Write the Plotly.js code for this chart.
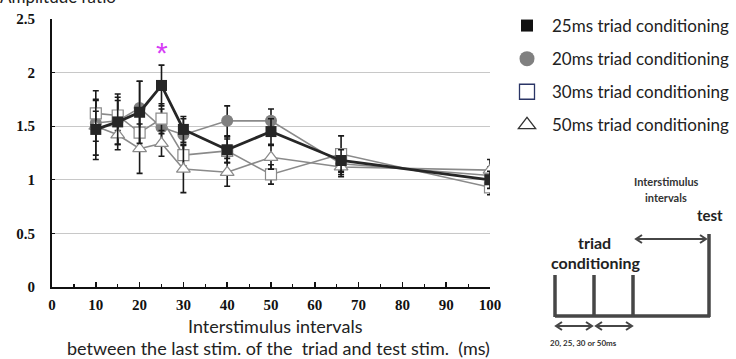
<!DOCTYPE html>
<html><head><meta charset="utf-8">
<script src="https://cdn.plot.ly/plotly-3.0.1.min.js"></script>
<style>html,body{margin:0;padding:0;background:#fff;overflow:hidden;} #chart{width:736px;height:359px;}</style>
</head><body><div id="chart"></div>
<script>
// ---- data ----
const isi = [10, 15, 20, 25, 30, 40, 50, 66, 100];
const ms25 = [1.47, 1.54, 1.63, 1.88, 1.47, 1.28, 1.45, 1.18, 1.00];
const ms25err = [0.28, 0.26, 0.29, 0.19, 0.12, 0.12, 0.12, 0.10, 0.08];
const ms20 = [1.53, 1.55, 1.67, 1.49, 1.42, 1.55, 1.55, 1.15, 1.04];
const ms20err = [0.30, 0.22, 0.25, 0.17, 0.15, 0.14, 0.11, 0.10, 0.08];
const ms30 = [1.62, 1.60, 1.44, 1.57, 1.23, 1.27, 1.05, 1.24, 0.93];
const ms30err = [0.12, 0.14, 0.16, 0.14, 0.10, 0.11, 0.09, 0.17, 0.07];
const ms50 = [1.50, 1.42, 1.29, 1.34, 1.10, 1.07, 1.21, 1.12, 1.09];
const ms50err = [0.14, 0.09, 0.23, 0.12, 0.22, 0.13, 0.11, 0.09, 0.10];
const seriesNames = ['25ms triad conditioning', '20ms triad conditioning', '30ms triad conditioning', '50ms triad conditioning'];
const yTicks = [0, 0.5, 1, 1.5, 2, 2.5];
const xTicks = [0, 10, 20, 30, 40, 50, 60, 70, 80, 90, 100];
const sigX = [25];
const sigY = [2.24];

// ---- layout helpers (pixel -> paper) ----
const L = 52, R = 490, T = 19, B = 287;
const PX = x => (x - L) / (R - L);
const PY = y => (B - y) / (B - T);

const labelFont = 'Lato, "Open Sans", sans-serif';
const tickFont = {family: '"Liberation Serif", "Times New Roman", serif', size: 15, color: '#111', weight: 'bold'};

function errs(arr) { return {type: 'data', array: arr, visible: true, color: '#1a1a1a', thickness: 1.6, width: 3}; }

const traces = [
  {x: isi, y: ms20, mode: 'lines+markers', name: seriesNames[1], showlegend: false,
   line: {color: '#8a8a8a', width: 1.6}, marker: {symbol: 'circle', size: 12, color: '#808080'}, error_y: errs(ms20err)},
  {x: isi, y: ms30, mode: 'lines+markers', name: seriesNames[2], showlegend: false,
   line: {color: '#8a8a8a', width: 1.6}, marker: {symbol: 'square', size: 11, color: '#ffffff', line: {color: '#8a8a8a', width: 1.2}}, error_y: errs(ms30err)},
  {x: isi, y: ms50, mode: 'lines+markers', name: seriesNames[3], showlegend: false,
   line: {color: '#8a8a8a', width: 1.6}, marker: {symbol: 'triangle-up', size: 12, color: '#ffffff', line: {color: '#8a8a8a', width: 1.2}}, error_y: errs(ms50err)},
  {x: isi, y: ms25, mode: 'lines+markers', name: seriesNames[0], showlegend: false,
   line: {color: '#262626', width: 2.8}, marker: {symbol: 'square', size: 11, color: '#262626'}, error_y: errs(ms25err)},
  // legend-only entries
  {x: [null], y: [null], mode: 'markers', name: seriesNames[0], legendgroup: 'a', marker: {symbol: 'square', size: 12, color: '#111'}},
  {x: [null], y: [null], mode: 'markers', name: seriesNames[1], legendgroup: 'b', marker: {symbol: 'circle', size: 15, color: '#808080'}},
  {x: [null], y: [null], mode: 'markers', name: seriesNames[2], legendgroup: 'c', marker: {symbol: 'square', size: 15, color: '#fff', line: {color: '#2a3566', width: 1.3}}},
  {x: [null], y: [null], mode: 'markers', name: seriesNames[3], legendgroup: 'd', marker: {symbol: 'triangle-up', size: 15, color: '#fff', line: {color: '#333', width: 1.3}}}
];

const dark = '#464646';
const shapes = [
  {type: 'line', xref: 'paper', yref: 'paper', x0: PX(555), x1: PX(710), y0: PY(316), y1: PY(316), line: {color: dark, width: 3.5}},
  {type: 'line', xref: 'paper', yref: 'paper', x0: PX(555), x1: PX(555), y0: PY(317), y1: PY(275), line: {color: dark, width: 3.5}},
  {type: 'line', xref: 'paper', yref: 'paper', x0: PX(594), x1: PX(594), y0: PY(317), y1: PY(275), line: {color: dark, width: 3.5}},
  {type: 'line', xref: 'paper', yref: 'paper', x0: PX(633), x1: PX(633), y0: PY(317), y1: PY(275), line: {color: dark, width: 3.5}},
  {type: 'line', xref: 'paper', yref: 'paper', x0: PX(709), x1: PX(709), y0: PY(317), y1: PY(234), line: {color: dark, width: 3.5}}
];
function dblArrow(x1, x2, y) {
  const h = 6, v = 4;
  const p = `M ${PX(x1)},${PY(y)} L ${PX(x2)},${PY(y)} ` +
    `M ${PX(x1 + h)},${PY(y - v)} L ${PX(x1)},${PY(y)} L ${PX(x1 + h)},${PY(y + v)} ` +
    `M ${PX(x2 - h)},${PY(y - v)} L ${PX(x2)},${PY(y)} L ${PX(x2 - h)},${PY(y + v)}`;
  return {type: 'path', xref: 'paper', yref: 'paper', path: p, line: {color: dark, width: 2}};
}
shapes.push(dblArrow(636, 706, 239));
shapes.push(dblArrow(556, 592, 326));
shapes.push(dblArrow(596, 632, 326));

function ann(text, x, y, size, opts) {
  return Object.assign({text: text, xref: 'paper', yref: 'paper', x: PX(x), y: PY(y), showarrow: false,
    xanchor: 'center', yanchor: 'middle', font: {family: labelFont, size: size, color: '#222'}}, opts || {});
}
const boldFont = (size, color) => ({family: labelFont, size: size, color: color || '#222', weight: 'bold'});

const annotations = [
  ann('Amplitude ratio', -2, -4, 17, {xanchor: 'left'}),
  ann('Interstimulus intervals', 275, 326, 18),
  ann('between the last stim. of the&nbsp;&nbsp;triad and test stim.&nbsp;&nbsp;(ms)', 278, 348, 18),
  ann('Interstimulus', 666, 181, 11, {font: boldFont(11, '#333')}),
  ann('intervals', 666, 197, 11, {font: boldFont(11, '#333')}),
  ann('test', 710, 215, 15, {font: boldFont(15)}),
  ann('triad', 594, 242, 16, {font: boldFont(16)}),
  ann('conditioning', 596, 262, 16, {font: boldFont(16)}),
  ann('20, 25, 30 or 50ms', 583, 343, 8, {font: boldFont(8, '#333')}),
  {text: '*', x: sigX[0], y: sigY[0], xref: 'x', yref: 'y', showarrow: false, yanchor: 'middle',
   font: {family: '"Liberation Sans", Arial, sans-serif', size: 30, color: '#d63cf5'}, yshift: -6}
];

const layout = {
  width: 736, height: 359,
  margin: {l: L, r: 736 - R, t: T, b: 359 - B, pad: 0, autoexpand: false},
  paper_bgcolor: '#fff', plot_bgcolor: '#fff',
  showlegend: true,
  legend: {x: PX(502), y: PY(8), xanchor: 'left', yanchor: 'top', font: {family: labelFont, size: 17, color: '#222'},
           tracegroupgap: 8, itemwidth: 40, bgcolor: 'rgba(0,0,0,0)'},
  xaxis: {range: [0, 100], tickvals: xTicks, ticktext: xTicks.map(String), tickfont: tickFont,
          showline: true, linecolor: '#111', linewidth: 2, ticks: 'inside', ticklen: 5, tickwidth: 1.5, tickcolor: '#111',
          ticklabelstandoff: 3,
          minor: {dtick: 5, ticks: 'inside', ticklen: 3, tickwidth: 1.2, tickcolor: '#111', showgrid: false},
          showgrid: false, zeroline: false, fixedrange: true, automargin: false},
  yaxis: {range: [0, 2.5], tickvals: yTicks, ticktext: yTicks.map(String), tickfont: tickFont,
          showline: true, linecolor: '#111', linewidth: 2, ticks: 'inside', ticklen: 3, tickcolor: '#111',
          ticklabelstandoff: 12,
          showgrid: true, gridcolor: '#c8c8c8', gridwidth: 1, zeroline: false, fixedrange: true, automargin: false},
  shapes: shapes,
  annotations: annotations
};

Plotly.newPlot('chart', traces, layout, {displayModeBar: false, staticPlot: true});
</script>
</body></html>
